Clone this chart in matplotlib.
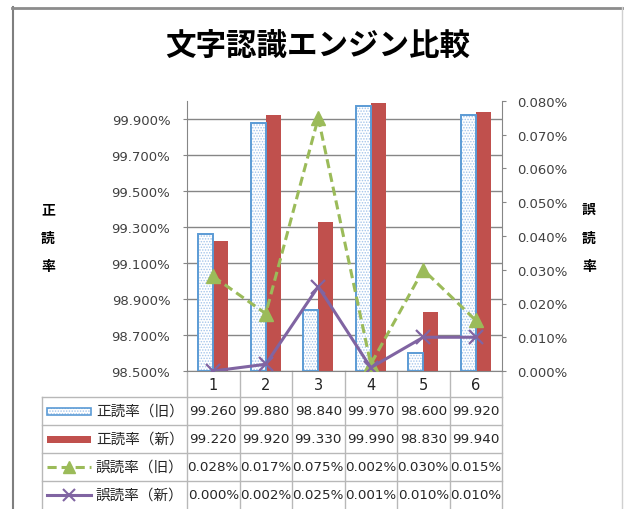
import numpy as np
import matplotlib
matplotlib.use('Agg')
import matplotlib.pyplot as plt
from matplotlib.patches import Rectangle
from matplotlib.lines import Line2D
from matplotlib import transforms
from matplotlib.ticker import FixedLocator, FuncFormatter

# ---- data ----
categories = ['1', '2', '3', '4', '5', '6']
correct_old = [99.26, 99.88, 98.84, 99.97, 98.60, 99.92]
correct_new = [99.22, 99.92, 99.33, 99.99, 98.83, 99.94]
error_old = [0.028, 0.017, 0.075, 0.002, 0.030, 0.015]
error_new = [0.000, 0.002, 0.025, 0.001, 0.010, 0.010]
series_labels = ['正読率（旧）', '正読率（新）', '誤読率（旧）', '誤読率（新）']
title = '文字認識エンジン比較'
left_label = '正読率'
right_label = '誤読率'
left_ticks = [98.5, 98.7, 98.9, 99.1, 99.3, 99.5, 99.7, 99.9]
right_ticks = [0.0, 0.01, 0.02, 0.03, 0.04, 0.05, 0.06, 0.07, 0.08]

# ---- style ----
JP = 'Noto Sans CJK JP'
plt.rcParams['font.family'] = ['DejaVu Sans', JP]
BLUE_EDGE = '#5B9BD5'
BLUE_HATCH = '#A3C4EA'
RED = '#C0504D'
GREEN = '#9BBB59'
PURPLE = '#8064A2'
AXIS_GRAY = '#868686'
TABLE_GRAY = '#B8B8B8'
TICK_COLOR = '#404040'
plt.rcParams['hatch.linewidth'] = 0.7

W, H = 624, 510
fig = plt.figure(figsize=(W / 100, H / 100), dpi=100)
lay = fig.add_axes([0, 0, 1, 1])
lay.set_xlim(0, W)
lay.set_ylim(H, 0)
lay.axis('off')


def px(x0, y0, x1, y1):
    return [x0 / W, 1 - y1 / H, (x1 - x0) / W, (y1 - y0) / H]


PL, PT, PR, PB = 187, 102, 502, 372
ax = fig.add_axes(px(PL, PT, PR, PB))
ax.set_facecolor('none')
x = np.arange(len(categories))
base = 98.5
bw = 0.29
old = np.array(correct_old)
new = np.array(correct_new)

ax.bar(x - bw / 2, old - base, bottom=base, width=bw, color='white',
       edgecolor=BLUE_HATCH, hatch='......', lw=0, zorder=2)
ax.bar(x - bw / 2, old - base, bottom=base, width=bw, fill=False,
       edgecolor=BLUE_EDGE, lw=1.4, zorder=3)
ax.bar(x + bw / 2, new - base, bottom=base, width=bw, color=RED, lw=0, zorder=2)

ax.set_xlim(-0.5, len(categories) - 0.5)
ax.set_ylim(98.5, 100.0)
ax.yaxis.set_major_locator(FixedLocator(left_ticks))
ax.yaxis.set_major_formatter(FuncFormatter(lambda v, p: f'{v:.3f}%'))
ax.set_axisbelow(True)
ax.grid(axis='y', color=AXIS_GRAY, lw=1)
ax.tick_params(axis='y', direction='out', length=3, pad=9, color=AXIS_GRAY,
               labelcolor=TICK_COLOR, labelsize=9.5)
ax.set_xticks(x, categories)
ax.tick_params(axis='x', length=0, pad=4, labelsize=10.5, labelcolor='#222222')
for s in ['top', 'right']:
    ax.spines[s].set_visible(False)
for s in ['left', 'bottom']:
    ax.spines[s].set_color(AXIS_GRAY)

ax2 = ax.twinx()
ax2.set_ylim(0, 0.08)
ax2.plot(x, error_old, color=GREEN, lw=2.2, dashes=(3, 1.6), marker='^',
         markersize=10, zorder=5)
ax2.plot(x, error_new, color=PURPLE, lw=2.2, marker='x', markersize=10,
         markeredgewidth=1.6, zorder=6)
ax2.yaxis.set_major_locator(FixedLocator(right_ticks))
ax2.yaxis.set_major_formatter(FuncFormatter(lambda v, p: f'{v:.3f}%'))
ax2.tick_params(axis='y', direction='out', length=3, pad=8, color=AXIS_GRAY,
                labelcolor=TICK_COLOR, labelsize=9.5)
for s in ['top', 'left', 'bottom']:
    ax2.spines[s].set_visible(False)
ax2.spines['right'].set_color(AXIS_GRAY)

# ---- data table ----
blend = transforms.blended_transform_factory(ax.transData, lay.transData)
row_y = [398, 426, 454, 482, 510]
TL = 42
col_w = (PR - PL) / len(categories)
for yy in row_y[:-1]:
    lay.plot([TL, PR], [yy, yy], color=TABLE_GRAY, lw=1)
lay.plot([TL, TL], [398, 510], color=TABLE_GRAY, lw=1)
for k in range(len(categories) + 1):
    xx = PL + k * col_w
    lay.plot([xx, xx], [PB, 510], color=TABLE_GRAY, lw=1)

rows = [
    [f'{v:.3f}' for v in correct_old],
    [f'{v:.3f}' for v in correct_new],
    [f'{v:.3f}%' for v in error_old],
    [f'{v:.3f}%' for v in error_new],
]
for r, vals in enumerate(rows):
    yc = (row_y[r] + row_y[r + 1]) / 2
    for i, s in enumerate(vals):
        lay.text(x[i], yc, s, transform=blend, ha='center', va='center',
                 fontsize=9.7, color='#262626')
    lay.text(96, yc, series_labels[r], ha='left', va='center', fontsize=10.5,
             family=JP, color='#262626')

# legend keys
kx0, kx1 = 47, 91
yc = (row_y[0] + row_y[1]) / 2
lay.add_patch(Rectangle((kx0, yc - 3.5), kx1 - kx0, 7, facecolor='white',
                        edgecolor=BLUE_HATCH, hatch='......', lw=0))
lay.add_patch(Rectangle((kx0, yc - 3.5), kx1 - kx0, 7, fill=False,
                        edgecolor=BLUE_EDGE, lw=1.2))
yc = (row_y[1] + row_y[2]) / 2
lay.add_patch(Rectangle((kx0, yc - 3.5), kx1 - kx0, 7, facecolor=RED, lw=0))
yc = (row_y[2] + row_y[3]) / 2
lay.add_line(Line2D([kx0, (kx0 + kx1) / 2, kx1], [yc] * 3, color=GREEN, lw=2.2,
                    dashes=(3, 1.6), marker='^', markersize=9, markevery=[1]))
yc = (row_y[3] + row_y[4]) / 2
lay.add_line(Line2D([kx0, (kx0 + kx1) / 2, kx1], [yc] * 3, color=PURPLE, lw=2.2,
                    marker='x', markersize=9, markeredgewidth=1.5, markevery=[1]))

# ---- titles ----
lay.text(318, 47, title, ha='center', va='center', fontsize=22,
         weight='bold', family=JP, color='black')
for j, ch in enumerate(left_label):
    lay.text(48, 210 + 28.5 * j, ch, ha='center', va='center', fontsize=10,
             weight='bold', family=JP)
for j, ch in enumerate(right_label):
    lay.text(589, 210 + 28.5 * j, ch, ha='center', va='center', fontsize=10,
             weight='bold', family=JP)

# chart border
lay.plot([12.5, 12.5], [8, 510], color='#7F7F7F', lw=1.5)
lay.plot([12, 624], [8.5, 8.5], color='#8C8C8C', lw=2)
lay.plot([621.5, 621.5], [8, 510], color='#D0D0D0', lw=1)

fig.savefig('out.png', dpi=100)
